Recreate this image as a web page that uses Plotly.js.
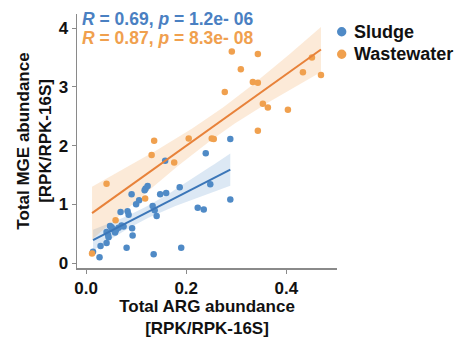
<!DOCTYPE html>
<html>
<head>
<meta charset="utf-8">
<script src="https://cdn.plot.ly/plotly-3.0.1.min.js"></script>
<style>html,body{margin:0;padding:0;background:#fff;}#chart{width:461px;height:338px;}</style>
</head>
<body>
<div id="chart"></div>
<script>
// ---- data ----
var sludgeX = [0.014, 0.027, 0.029, 0.041, 0.041, 0.044, 0.045, 0.048, 0.051, 0.052, 0.055, 0.058, 0.060, 0.065, 0.069, 0.071, 0.075, 0.081, 0.083, 0.085, 0.091, 0.092, 0.093, 0.100, 0.106, 0.117, 0.119, 0.123, 0.133, 0.135, 0.137, 0.141, 0.148, 0.158, 0.160, 0.187, 0.190, 0.223, 0.235, 0.239, 0.248, 0.288, 0.288];
var sludgeY = [0.19, 0.10, 0.29, 0.34, 0.53, 0.48, 0.44, 0.63, 0.61, 0.58, 0.57, 0.52, 0.56, 0.60, 0.87, 0.64, 0.62, 0.26, 0.88, 0.82, 1.17, 0.59, 0.47, 1.00, 1.07, 1.24, 1.27, 1.31, 0.97, 0.15, 0.90, 0.80, 1.17, 1.74, 1.19, 1.29, 0.26, 0.94, 0.91, 1.87, 1.34, 2.11, 1.08];
var wasteX = [0.012, 0.041, 0.059, 0.118, 0.131, 0.136, 0.176, 0.205, 0.251, 0.255, 0.277, 0.291, 0.309, 0.333, 0.343, 0.343, 0.343, 0.353, 0.363, 0.403, 0.433, 0.451, 0.469];
var wasteY = [0.16, 1.35, 0.73, 1.10, 1.84, 2.08, 1.71, 2.12, 2.12, 2.11, 2.91, 3.60, 3.30, 3.08, 3.07, 3.56, 2.25, 2.71, 2.65, 2.61, 3.25, 3.50, 3.20];
var groupNames = ["Sludge", "Wastewater"];
var statLabels = ["<b><i>R</i> = 0.69, <i>p</i> = 1.2e- 06</b>", "<b><i>R</i> = 0.87, <i>p</i> = 8.3e- 08</b>"];
var xTickVals = [0.0, 0.2, 0.4];
var xTickText = ["0.0", "0.2", "0.4"];
var yTickVals = [0, 1, 2, 3, 4];
var xTitle = "<b>Total ARG abundance<br>[RPK/RPK-16S]</b>";
var yTitle = "<b>Total MGE abundance<br>[RPK/RPK-16S]</b>";

// ---- styles ----
var ptCol = ["#4f8ac6", "#f0a04e"];
var lineCol = ["#3b76b8", "#e8823a"];
var bandCol = ["rgba(79,138,198,0.20)", "rgba(240,160,78,0.22)"];
var textCol = ["#4a80c2", "#f0a04e"];
var FONT = "Liberation Sans, Arial, sans-serif";

function fit(xs, ys) {
  var n = xs.length, mx = 0, my = 0;
  for (var i = 0; i < n; i++) { mx += xs[i]; my += ys[i]; }
  mx /= n; my /= n;
  var sxx = 0, sxy = 0;
  for (var i = 0; i < n; i++) { sxx += (xs[i]-mx)*(xs[i]-mx); sxy += (xs[i]-mx)*(ys[i]-my); }
  var b = sxy / sxx, a = my - b*mx;
  var sse = 0;
  for (var i = 0; i < n; i++) { var r = ys[i] - (a + b*xs[i]); sse += r*r; }
  var s = Math.sqrt(sse/(n-2));
  var df = n - 2, z = 1.959964;
  var t = z + (z*z*z + z)/(4*df) + (5*Math.pow(z,5) + 16*z*z*z + 3*z)/(96*df*df);
  var xmin = Math.min.apply(null, xs), xmax = Math.max.apply(null, xs);
  var gx = [], gy = [], lo = [], hi = [];
  var steps = 80;
  for (var k = 0; k <= steps; k++) {
    var x = xmin + (xmax - xmin)*k/steps;
    var yh = a + b*x;
    var se = s*Math.sqrt(1/n + (x-mx)*(x-mx)/sxx);
    gx.push(x); gy.push(yh); lo.push(yh - t*se); hi.push(yh + t*se);
  }
  return {gx: gx, gy: gy, lo: lo, hi: hi};
}

var groups = [[sludgeX, sludgeY], [wasteX, wasteY]];
var bands = [], pts = [], lines = [];
groups.forEach(function (g, i) {
  var f = fit(g[0], g[1]);
  bands.push({
    x: f.gx.concat(f.gx.slice().reverse()),
    y: f.hi.concat(f.lo.slice().reverse()),
    type: "scatter", mode: "lines", fill: "toself",
    fillcolor: bandCol[i], line: {width: 0}, hoverinfo: "skip", showlegend: false
  });
  pts.push({
    x: g[0], y: g[1], type: "scatter", mode: "markers", name: groupNames[i],
    marker: {color: ptCol[i], size: 6.5, line: {width: 0}}, showlegend: false
  });
  lines.push({
    x: f.gx, y: f.gy, type: "scatter", mode: "lines",
    line: {color: lineCol[i], width: 2}, showlegend: false, hoverinfo: "skip"
  });
});

// plot area in pixels: left 77, right 337, top 14, bottom 268
var L = 77, R = 337, T = 14, B = 268, W = 461, H = 338;
function px2paperX(p) { return (p - L)/(R - L); }
function px2paperY(p) { return (B - p)/(B - T); }

var annotations = [];
var shapes = [];
statLabels.forEach(function (s, i) {
  annotations.push({
    xref: "paper", yref: "paper", x: px2paperX(81), y: px2paperY(i === 0 ? 19.5 : 38),
    xanchor: "left", yanchor: "middle", showarrow: false, text: s, borderpad: 0,
    font: {family: FONT, size: 17.5, color: textCol[i]}
  });
});
groupNames.forEach(function (nm, i) {
  var cy = i === 0 ? 31.7 : 54.3;
  shapes.push({
    type: "circle", xref: "paper", yref: "paper", xsizemode: "pixel", ysizemode: "pixel",
    xanchor: px2paperX(341.7), yanchor: px2paperY(cy), x0: -4.7, x1: 4.7, y0: -4.7, y1: 4.7,
    fillcolor: ptCol[i], line: {width: 0}
  });
  annotations.push({
    xref: "paper", yref: "paper", x: px2paperX(352), y: px2paperY(cy),
    xanchor: "left", yanchor: "middle", showarrow: false, text: "<b>" + nm + "</b>",
    font: {family: FONT, size: 18, color: "#111"}
  });
});

var axisCommon = {
  showgrid: false, zeroline: false, showline: true, linecolor: "#8a8a8a", linewidth: 1.5,
  ticks: "outside", ticklen: 4, tickwidth: 1, tickcolor: "#8a8a8a",
  tickfont: {family: FONT, size: 17, color: "#111", weight: "bold"}
};

var layout = {
  width: W, height: H,
  margin: {l: L, r: W - R, t: T, b: H - B, pad: 0},
  paper_bgcolor: "#fff", plot_bgcolor: "#fff",
  showlegend: false,
  xaxis: Object.assign({}, axisCommon, {
    range: [-0.018, 0.501], tickvals: xTickVals, ticktext: xTickText,
    title: {text: xTitle, font: {family: FONT, size: 17, color: "#111"}, standoff: 2}
  }),
  yaxis: Object.assign({}, axisCommon, {
    range: [-0.085, 4.24], tickvals: yTickVals,
    title: {text: yTitle, font: {family: FONT, size: 17, color: "#111"}, standoff: 2}
  }),
  annotations: annotations,
  shapes: shapes
};

Plotly.newPlot("chart", bands.concat(pts).concat(lines), layout, {displayModeBar: false, staticPlot: true});
</script>
</body>
</html>
